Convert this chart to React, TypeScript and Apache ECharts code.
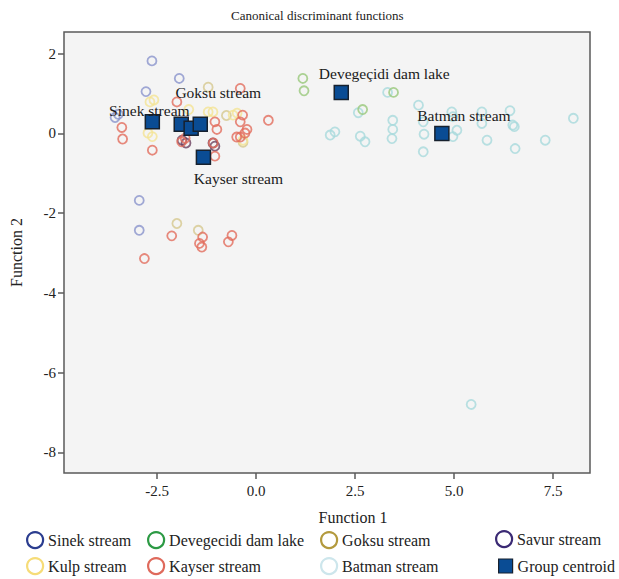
import React, { useEffect, useRef } from "react";
import * as echarts from "echarts";

const FONT = "'Liberation Serif', 'DejaVu Serif', serif";

const groupNames = [
  "Sinek stream",
  "Devegecidi dam lake",
  "Goksu stream",
  "Savur stream",
  "Kulp stream",
  "Kayser stream",
  "Batman stream",
];

const xTicks = [-2.5, 0, 2.5, 5, 7.5];
const yTicks = [-8, -6, -4, -2, 0, 2];

const sinekPts = [
  [-2.63, 1.82], [-1.94, 1.38], [-2.78, 1.05], [-3.56, 0.4], [-3.48, 0.48],
  [-2.95, -1.68], [-2.95, -2.43],
];
const devegecidiPts = [
  [1.18, 1.38], [1.21, 1.07], [3.47, 1.03], [2.69, 0.6],
];
const goksuPts = [
  [-1.21, 1.16], [-2.0, -2.26], [-1.46, -2.43], [-0.33, -0.22], [-0.75, 0.45],
];
const savurPts = [
  [-1.87, -0.17], [-1.77, -0.24], [-1.09, -0.24], [-1.04, -0.32],
];
const kulpPts = [
  [-2.68, 0.79], [-2.58, 0.84], [-2.73, 0.01], [-2.62, -0.08], [-1.21, 0.54],
  [-1.09, 0.54], [-0.48, 0.51], [-0.33, -0.17], [-0.58, 0.46], [-1.7, 0.6],
];
const kayserPts = [
  [-2.0, 0.79], [-0.4, 1.13], [-0.34, 0.46], [-0.4, 0.29], [0.31, 0.33],
  [-1.04, 0.29], [-0.99, 0.1], [-0.23, 0.1], [-0.49, -0.09], [-3.39, 0.15],
  [-3.37, -0.14], [-2.62, -0.42], [-1.04, -0.57], [-1.88, -0.21], [-1.08, -0.24],
  [-0.4, -0.09], [-0.28, 0.01], [-1.79, -0.12], [-2.13, -2.57], [-1.35, -2.6],
  [-1.43, -2.76], [-1.37, -2.85], [-0.61, -2.56], [-0.7, -2.72], [-2.82, -3.14],
];
const batmanPts = [
  [3.32, 1.03], [2.58, 0.52], [1.99, 0.04], [1.87, -0.04], [2.63, -0.07],
  [2.75, -0.21], [3.45, 0.33], [3.45, 0.1], [3.43, -0.13], [4.1, 0.71],
  [4.22, 0.29], [4.24, -0.02], [4.22, -0.46], [4.94, 0.54], [4.97, 0.42],
  [5.07, 0.08], [4.97, -0.08], [5.7, 0.54], [5.7, 0.25], [5.83, -0.17],
  [6.41, 0.57], [6.48, 0.21], [6.52, 0.17], [6.54, -0.38], [7.3, -0.17],
  [8.01, 0.38], [5.43, -6.8],
];

// centroids: name, x, y
const centroidNames = [
  "Sinek stream", "Kulp stream", "Savur stream", "Goksu stream",
  "Kayser stream", "Devegecidi dam lake", "Batman stream",
];
const centroidX = [-2.62, -1.89, -1.64, -1.41, -1.33, 2.15, 4.69];
const centroidY = [0.29, 0.23, 0.13, 0.23, -0.6, 1.03, 0.0];
const centroidLabels = [
  "Sinek stream", "", "", "Goksu stream", "Kayser stream", "Devegeçidi dam lake", "Batman stream",
];
const labelOffsets = [
  [-3, -11], [0, 0], [0, 0], [18, -32], [35, 21], [43, -19], [22, -18],
];

const pointColors = ["#8a93cc", "#98c87a", "#d6c88f", "#6a3f5e", "#f4e494", "#e26d5c", "#a8d9dc"];
const legendColors = ["#2b3d8f", "#2c9a44", "#b39a3e", "#3b2a74", "#f6dc78", "#df6a5c", "#cde6ec"];

export default function App() {
  const ref = useRef<HTMLDivElement>(null);
  useEffect(() => {
    if (!ref.current) return;
    const chart = echarts.init(ref.current, undefined, { renderer: "svg" });
    const ptsByGroup = [sinekPts, devegecidiPts, goksuPts, savurPts, kulpPts, kayserPts, batmanPts];
    const order = [6, 1, 0, 2, 4, 3, 5];
    const pointSeries = order.map((i) => ({
      type: "scatter",
      name: groupNames[i],
      data: ptsByGroup[i],
      symbol: "circle",
      symbolSize: 9,
      itemStyle: { color: "rgba(0,0,0,0)", borderColor: pointColors[i], borderWidth: 1.8 },
      z: 2,
    }));
    const centroidSeries = {
      type: "scatter",
      name: "Group centroid",
      symbol: "rect",
      symbolSize: 14,
      z: 10,
      itemStyle: { color: "#0a4c94", borderColor: "#17212e", borderWidth: 1.5, opacity: 1 },
      data: centroidX.map((x, i) => ({
        name: centroidNames[i],
        value: [x, centroidY[i]],
        label: {
          show: centroidLabels[i] !== "",
          formatter: centroidLabels[i],
          position: "inside",
          offset: labelOffsets[i],
          color: "#1a1a1a",
          fontFamily: FONT,
          fontSize: 15.5,
        },
      })),
    };
    const legendPos: Record<string, [number, number]> = {
      "Sinek stream": [26, 531],
      "Devegecidi dam lake": [147, 531],
      "Goksu stream": [320, 531],
      "Savur stream": [495, 530],
      "Kulp stream": [26, 557],
      "Kayser stream": [147, 557],
      "Batman stream": [320, 557],
    };
    const legends: any[] = groupNames.map((n, i) => ({
      left: legendPos[n][0],
      top: legendPos[n][1],
      padding: 0,
      selectedMode: false,
      itemWidth: 16,
      itemHeight: 16,
      itemGap: 5,
      textStyle: { fontFamily: FONT, fontSize: 16, color: "#222" },
      data: [
        {
          name: n,
          icon: "circle",
          itemStyle: { color: "rgba(0,0,0,0)", borderColor: legendColors[i], borderWidth: 2.2, opacity: 1 },
        },
      ],
    }));
    legends.push({
      left: 498,
      top: 558,
      padding: 0,
      selectedMode: false,
      itemWidth: 14,
      itemHeight: 14,
      textStyle: { fontFamily: FONT, fontSize: 16, color: "#222" },
      data: [
        {
          name: "Group centroid",
          icon: "rect",
          itemStyle: { color: "#0a4c94", borderColor: "#17212e", borderWidth: 1.2, opacity: 1 },
        },
      ],
    });
    chart.setOption({
      animation: false,
      backgroundColor: "#ffffff",
      title: {
        text: "Canonical discriminant functions",
        left: 231,
        top: 9,
        padding: 0,
        textStyle: { fontFamily: FONT, fontSize: 13, fontWeight: "normal", color: "#222" },
      },
      legend: legends,
      grid: {
        left: 64,
        right: 29,
        top: 32,
        bottom: 106,
        show: true,
        backgroundColor: "#f4f4f4",
        borderColor: "#5a5a5a",
        borderWidth: 1.5,
      },
      xAxis: {
        type: "value",
        min: -4.85,
        max: 8.43,
        name: "Function 1",
        nameLocation: "middle",
        nameGap: 36,
        nameTextStyle: { fontFamily: FONT, fontSize: 16, color: "#222", padding: [0, 0, 0, 52] },
        axisLine: { show: false, onZero: false },
        splitLine: { show: false },
        axisTick: { show: true, customValues: xTicks, length: 6, lineStyle: { color: "#5a5a5a", width: 1.5 } },
        axisLabel: {
          customValues: xTicks,
          formatter: (v: number) => v.toFixed(1),
          fontFamily: FONT,
          fontSize: 15,
          color: "#222",
          margin: 10,
        },
      },
      yAxis: {
        type: "value",
        min: -8.52,
        max: 2.545,
        name: "Function 2",
        nameLocation: "middle",
        nameGap: 40,
        nameTextStyle: { fontFamily: FONT, fontSize: 16, color: "#222" },
        axisLine: { show: false, onZero: false },
        splitLine: { show: false },
        axisTick: { show: true, customValues: yTicks, length: 6, lineStyle: { color: "#5a5a5a", width: 1.5 } },
        axisLabel: {
          customValues: yTicks,
          fontFamily: FONT,
          fontSize: 15,
          color: "#222",
          margin: 8,
        },
      },
      series: [...pointSeries, centroidSeries],
    });
    return () => chart.dispose();
  }, []);
  return <div ref={ref} style={{ width: 619, height: 579, position: "absolute", left: 0, top: 0 }} />;
}
